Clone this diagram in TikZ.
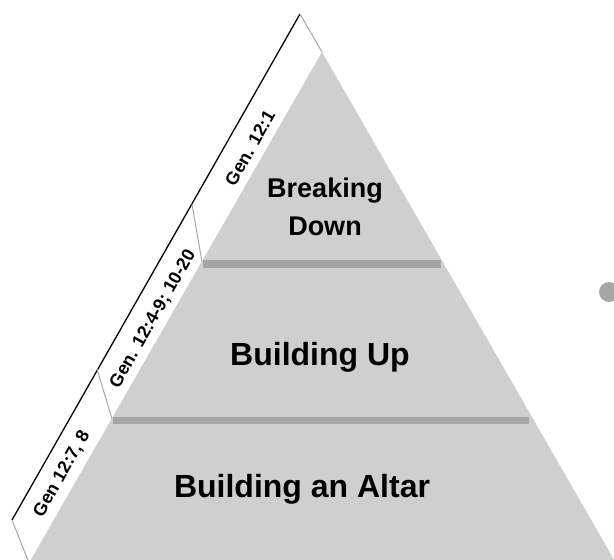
\documentclass[tikz,border=0pt]{standalone}
\usepackage{fontspec}
\setmainfont{Liberation Sans}
\usetikzlibrary{positioning,calc}
\definecolor{pyrgray}{HTML}{CFCFCF}
\definecolor{bargray}{HTML}{A6A6A6}
\definecolor{edgegray}{HTML}{A8A8A8}
\tikzset{
layer/.style = {font=\bfseries\fontsize{32}{38}\selectfont, align=center, inner sep=0pt},
toplayer/.style = {layer, font=\bfseries\fontsize{27}{38}\selectfont},
ref/.style = {font=\bfseries\fontsize{18}{20}\selectfont, rotate=60.4, inner sep=0pt},
bar/.style = {fill=bargray},
divider/.style = {draw=edgegray, line width=1pt},
dot/.style = {circle, fill=bargray, minimum size=20pt, inner sep=0pt}
}

\begin{document}
\begin{tikzpicture}[x=1pt,y=-1pt]
						\useasboundingbox (0,0) rectangle (614,560);
						\coordinate (apex) at (322,52);
						\coordinate (bl) at (29,563);
						\coordinate (br) at (616,563);
						\coordinate (stop) at (300,14);
						\coordinate (sbot) at (12,520);
						\coordinate (d1o) at (192,204);
						\coordinate (d1i) at (202,262);
						\coordinate (d2o) at (97,369);
						\coordinate (d2i) at (112,419);
						% pyramid and its bands
						\fill[pyrgray] (apex) -- (bl) -- (br) -- cycle;
						\fill[bar] (203,260) rectangle (441,268);
						\fill[bar] (113,417) rectangle (529,424);
						% reference strip
						\draw[line width=1.3pt] (stop) -- (sbot);
						\draw[divider] (stop) -- (apex);
						\draw[divider] (d1o) -- (d1i);
						\draw[divider] (d2o) -- (d2i);
						\draw[divider] (sbot) -- (bl);
						\node[toplayer] (breaking) at (325,207) {Breaking\\Down};
						\node[layer, anchor=base] (buildup) at (320,365) {Building Up};
						\node[layer, anchor=base] (altar) at (302,497) {Building an Altar};
						\node[ref] (gen1) at (250,148) {Gen. 12:1};
						\node[ref] (gen2) at (153,319) {Gen. 12:4-9; 10-20};
						\node[ref] (gen3) at (62,474) {Gen 12:7, 8};
						\node[dot] (bullet) at (609,292) {};
					\end{tikzpicture}
\end{document}
